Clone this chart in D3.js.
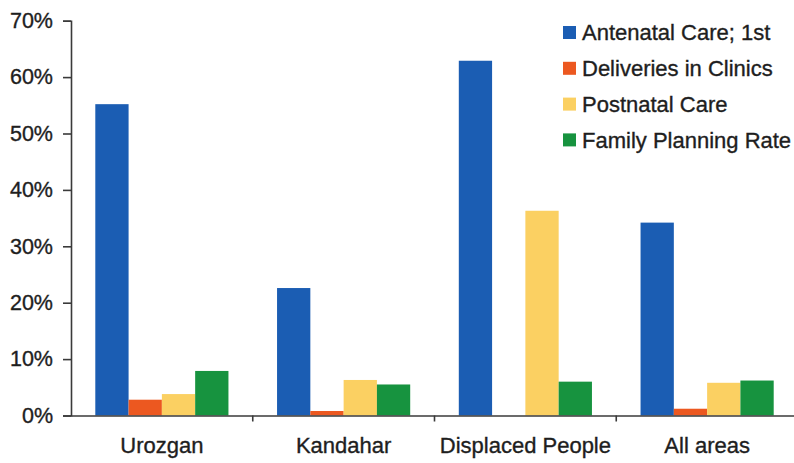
<!DOCTYPE html>
<html>
<head>
<meta charset="utf-8">
<script src="https://cdn.jsdelivr.net/npm/d3@7/dist/d3.min.js"></script>
<style>
  html, body { margin: 0; padding: 0; background: #ffffff; }
  svg { display: block; }
  text { font-family: "Liberation Sans", Arial, Helvetica, sans-serif; fill: #1e1e1e; stroke: #1e1e1e; stroke-width: 0.35px; }
</style>
</head>
<body>
<svg id="chart" width="794" height="463"></svg>
<script>
// Regions compared
const categories = ["Urozgan", "Kandahar", "Displaced People", "All areas"];

// Indicator series, percent of women
const seriesNames = ["Antenatal Care; 1st", "Deliveries in Clinics", "Postnatal Care", "Family Planning Rate"];
const antenatal   = [55.2, 22.6, 62.9, 34.2];
const deliveries  = [2.8, 0.8, 0.0, 1.2];
const postnatal   = [3.8, 6.3, 36.3, 5.8];
const planning    = [7.9, 5.5, 6.0, 6.2];
const seriesColors = ["#1b5db3", "#ec5820", "#fbd062", "#17933f"];

// Y axis ticks
const yTicks = [0, 10, 20, 30, 40, 50, 60, 70];

const seriesValues = [antenatal, deliveries, postnatal, planning];

const svg = d3.select("#chart");

const x0 = d3.scaleBand().domain(categories).range([71, 798]).padding(0);
const x1 = d3.scaleBand().domain(seriesNames).range([0, x0.bandwidth()])
  .paddingInner(0).paddingOuter(0.73);
const y = d3.scaleLinear().domain([0, 70]).range([415.5, 20.7]);

// Bars
const groups = svg.append("g").selectAll("g")
  .data(categories)
  .join("g")
  .attr("transform", d => `translate(${x0(d)},0)`);

groups.selectAll("rect")
  .data((c, i) => seriesNames.map((s, j) => ({ s, v: seriesValues[j][i], color: seriesColors[j] })))
  .join("rect")
  .attr("x", d => x1(d.s))
  .attr("width", x1.bandwidth())
  .attr("y", d => y(d.v))
  .attr("height", d => y(0) - y(d.v))
  .attr("fill", d => d.color);

// Y axis
const yAxis = svg.append("g")
  .attr("transform", "translate(71,0)")
  .call(d3.axisLeft(y).tickValues(yTicks).tickFormat(d => d + "%").tickSize(8).tickPadding(10));
yAxis.select(".domain").attr("stroke", "#3a3a3a").attr("stroke-width", 1.6);
yAxis.selectAll(".tick line").attr("stroke", "#3a3a3a").attr("stroke-width", 1.6);
yAxis.selectAll(".tick text")
  .attr("font-size", 21.5)
  .attr("fill", "#1e1e1e")
  .style("font-family", "'Liberation Sans', Arial, sans-serif");

// X axis: ticks at the boundaries between categories
const xAxis = svg.append("g")
  .attr("transform", `translate(0,${y(0)})`)
  .call(d3.axisBottom(x0).tickSize(0).tickPadding(22));
xAxis.select(".domain").attr("stroke", "#3a3a3a").attr("stroke-width", 1.6);
xAxis.selectAll(".tick text")
  .attr("font-size", 22)
  .attr("fill", "#1e1e1e")
  .style("font-family", "'Liberation Sans', Arial, sans-serif");

xAxis.selectAll("line.sep")
  .data(categories.slice(1))
  .join("line")
  .attr("class", "sep")
  .attr("x1", d => x0(d)).attr("x2", d => x0(d))
  .attr("y1", 0).attr("y2", 6)
  .attr("stroke", "#3a3a3a").attr("stroke-width", 1.6);

// Legend
const legend = svg.append("g").attr("transform", "translate(563,32.5)");
const items = legend.selectAll("g")
  .data(seriesNames)
  .join("g")
  .attr("transform", (d, i) => `translate(0,${i * 35.8})`);
items.append("rect")
  .attr("x", 0).attr("y", -6.5)
  .attr("width", 13).attr("height", 13)
  .attr("fill", (d, i) => seriesColors[i]);
items.append("text")
  .attr("x", 19).attr("y", 0)
  .attr("dy", "0.35em")
  .attr("font-size", 22)
  .text(d => d);
</script>
</body>
</html>
